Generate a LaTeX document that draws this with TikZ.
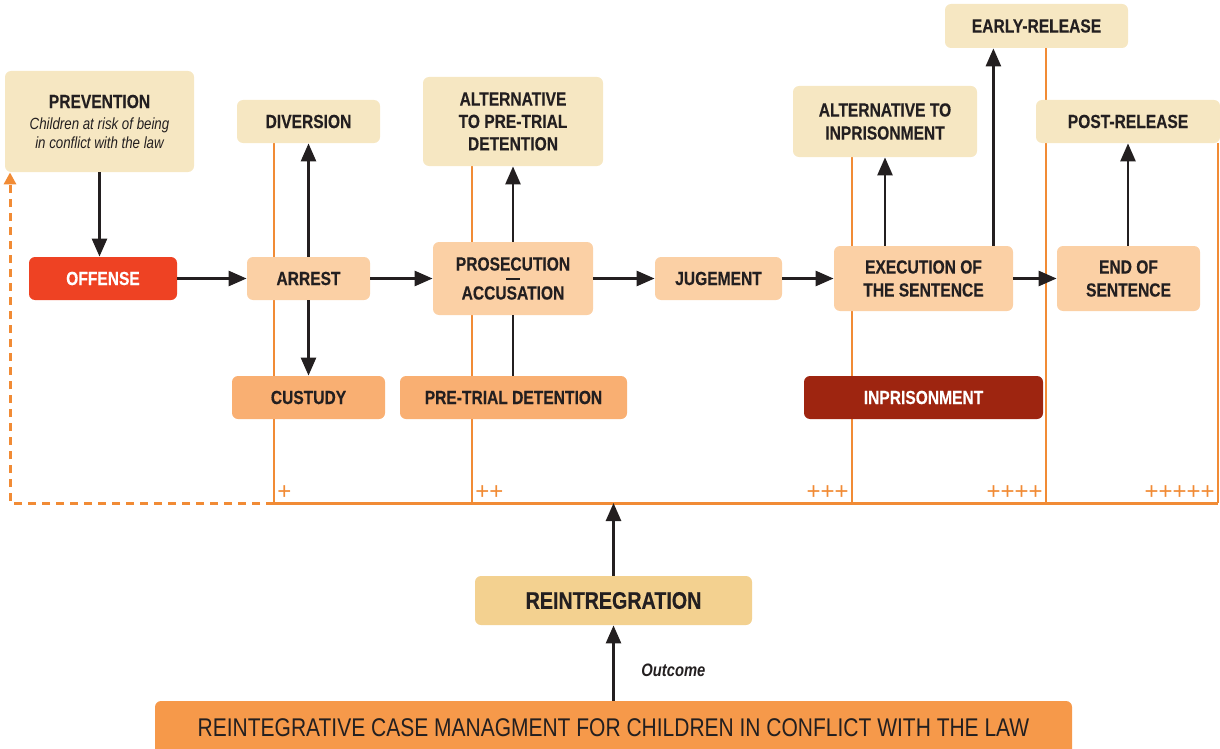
\documentclass[tikz,border=0pt]{standalone}
\usepackage{fontspec}
\setmainfont{Liberation Sans}
\newfontfamily\cond{Liberation Sans}[FakeStretch=0.82, BoldFeatures={FakeBold=0.3}]
\usetikzlibrary{arrows.meta, positioning, backgrounds}
\definecolor{ink}{HTML}{231F20}
\definecolor{beige}{HTML}{F6E7C2}
\definecolor{peach}{HTML}{FBD0A5}
\definecolor{apricot}{HTML}{F9AF72}
\definecolor{offred}{HTML}{EE4223}
\definecolor{jailred}{HTML}{9E2510}
\definecolor{gold}{HTML}{F3D190}
\definecolor{mgmtor}{HTML}{F6994A}
\definecolor{lineor}{HTML}{F18B35}
\newcommand{\note}[1]{{\mdseries\itshape\fontsize{8.1}{9.5}\selectfont #1}}
\tikzset{
  box/.style={rectangle, rounded corners=3pt, align=center, inner sep=1pt, text=ink,
    font=\cond\bfseries\fontsize{9.5}{11.5}\selectfont},
  idea/.style={box, fill=beige},
  stage/.style={box, fill=peach},
  hold/.style={box, fill=apricot},
  line/.style={-{Triangle[length=9pt, width=7.5pt]}, line width=1.3pt, draw=ink},
  link/.style={line width=1.3pt, draw=ink},
  track/.style={draw=lineor, line width=0.75pt},
  plus/.style={text=lineor, font=\fontsize{12}{12}\selectfont, inner sep=1.5pt}
}

\begin{document}
\begin{tikzpicture}[x=0.5pt, y=-0.5pt]
\useasboundingbox (0,0) rectangle (1220,749);

% ---- alternativas (arriba) ----
\node[idea, minimum width=94.5pt, minimum height=50.5pt] (prev) at (99.5,121.5)
  {PREVENTION\\[-1pt]\note{Children at risk of being}\\[-2pt]\note{in conflict with the law}};
\node[idea, minimum width=71.5pt, minimum height=21.5pt] (div) at (308.5,121.5) {DIVERSION};
\node[idea, minimum width=90pt, minimum height=44.5pt] (altpre) at (513,121.5)
  {ALTERNATIVE\\[-0.3pt]TO PRE-TRIAL\\[-0.3pt]DETENTION};
\node[idea, minimum width=92pt, minimum height=35.5pt] (altinp) at (885,121.5)
  {ALTERNATIVE TO\\INPRISONMENT};
\node[idea, minimum width=91.5pt, minimum height=22pt] (early) at (1036.5,26) {EARLY-RELEASE};
\node[idea, minimum width=92pt, minimum height=21.5pt] (post) at (1128,121.5) {POST-RELEASE};

% ---- etapas (centro) ----
\node[box, fill=offred, text=white, minimum width=74pt, minimum height=21.5pt] (offense) at (103,278.5) {OFFENSE};
\node[stage, minimum width=61.5pt, minimum height=21.5pt] (arrest) at (308.5,278.5) {ARREST};
\node[stage, minimum width=80pt, minimum height=36.5pt] (pros) at (513,278.5)
  {PROSECUTION\\[-7pt]\rule{7pt}{0.7pt}\\[-1.5pt]ACCUSATION};
\node[stage, minimum width=63.5pt, minimum height=21.5pt] (jug) at (718.5,278.5) {JUGEMENT};
\node[stage, minimum width=89.5pt, minimum height=32.5pt] (exec) at (923.5,278.5)
  {EXECUTION OF\\THE SENTENCE};
\node[stage, minimum width=71.5pt, minimum height=32.5pt] (endsent) at (1128.5,278.5)
  {END OF\\SENTENCE};

% ---- privacion de libertad ----
\node[hold, minimum width=76.5pt, minimum height=21.5pt] (cust) at (308.5,397.5) {CUSTUDY};
\node[hold, minimum width=113.5pt, minimum height=21.5pt] (ptd) at (513.5,397.5) {PRE-TRIAL DETENTION};
\node[box, fill=jailred, text=white, minimum width=119.5pt, minimum height=21.5pt] (inpr) at (923.5,397.5) {INPRISONMENT};

% ---- reintegracion ----
\node[box, fill=gold, font=\cond\bfseries\fontsize{12}{14}\selectfont,
  minimum width=138.5pt, minimum height=24.5pt] (reint) at (613.5,600.5) {REINTREGRATION};
\node[box, fill=mgmtor, font=\cond\fontsize{12.8}{14}\selectfont,
  minimum width=458.5pt, minimum height=27pt] (mgmt) at (613.5,728)
  {REINTEGRATIVE CASE MANAGMENT FOR CHILDREN IN CONFLICT WITH THE LAW};

% ---- niveles ----
\coordinate (t1) at (274,503);
\coordinate (t2) at (472,503);
\coordinate (t3) at (852,503);
\coordinate (t4) at (1046,503);
\coordinate (t5) at (1218,503);
\coordinate (back) at (10,503);

\begin{scope}[on background layer]
\draw[track] (div.south -| t1) -- (t1);
\draw[track] (altpre.south -| t2) -- (t2);
\draw[track] (altinp.south -| t3) -- (t3);
\draw[track] (early.south -| t4) -- (t4);
\draw[track] (post.south -| t5) -- (t5);
\end{scope}
\draw[draw=lineor, line width=1.5pt] (t1) -- (t5);
\draw[draw=lineor, line width=1.5pt, dash pattern=on 4pt off 3pt,
  -{Triangle[length=6pt, width=6pt]}] (t1) -- (back) -- (back |- prev.south);

\node[plus, anchor=south west] (p1) at (t1) {+};
\node[plus, anchor=south west] (p2) at (t2) {++};
\node[plus, anchor=south east] (p3) at (t3) {+++};
\node[plus, anchor=south east] (p4) at (t4) {++++};
\node[plus, anchor=south east] (p5) at (t5) {+++++};

% ---- conexiones ----
\draw[line] (prev.south) -- (prev.south |- offense.north);
\draw[line] (offense) -- (arrest);
\draw[line] (arrest) -- (div);
\draw[line] (arrest) -- (cust);
\draw[line] (arrest) -- (pros);
\draw[line] (pros) -- (altpre);
\draw[link] (ptd.north -| pros.south) -- (pros.south);
\draw[line] (pros) -- (jug);
\draw[line] (jug) -- (exec);
\draw[line] (exec.north -| altinp.south) -- (altinp.south);
\draw[line] ([xshift=-10pt]exec.north east) -- ([xshift=-10pt]exec.north east |- early.south);
\draw[line] (exec) -- (endsent);
\draw[line] (endsent.north -| post.south) -- (post.south);
\draw[line] (reint) -- (reint.north |- t1);
\draw[line] (mgmt) -- node[pos=0.4, right=10pt, text=ink,
  font=\cond\bfseries\itshape\fontsize{9}{11}\selectfont] (outcome) {Outcome} (reint);

\end{tikzpicture}
\end{document}
